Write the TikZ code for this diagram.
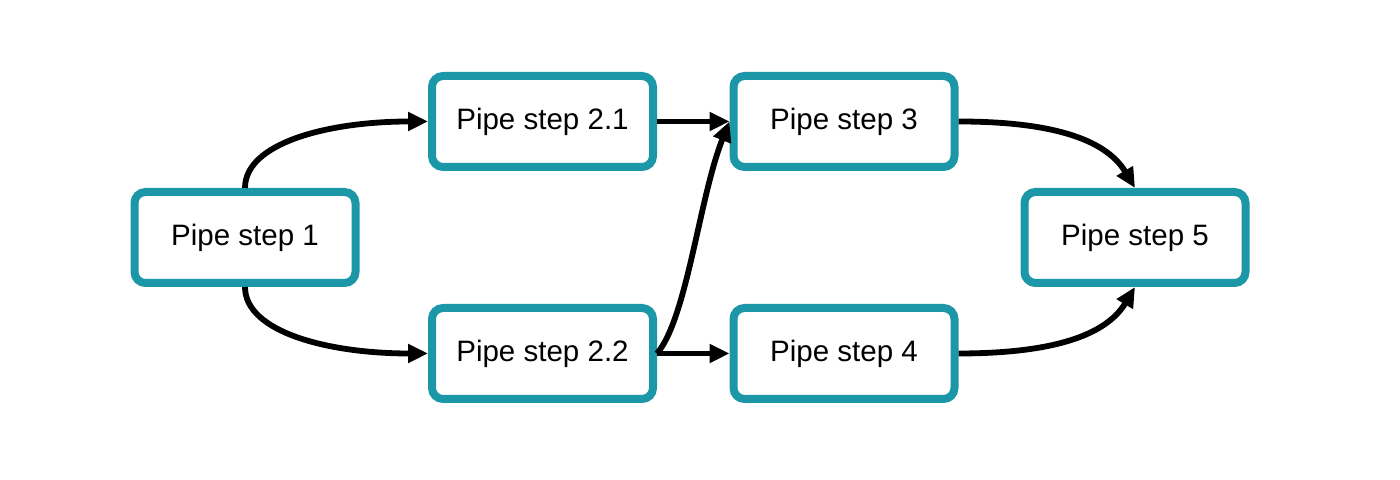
\documentclass[tikz,border=0pt]{standalone}
\usepackage{fontspec}
\setmainfont{Liberation Sans}
\usetikzlibrary{arrows.meta}
\definecolor{teal1}{RGB}{27,151,168}
\begin{document}
\begin{tikzpicture}[x=1cm,y=1cm,
  stepbox/.style={draw=teal1, line width=0.08cm, rounded corners=0.11cm, fill=white,
    minimum width=2.21cm, minimum height=0.91cm, inner sep=0pt,
    font=\fontsize{8.4}{10}\selectfont},
  conn/.style={line width=0.058cm, -{Triangle[length=0.2cm,width=0.18cm]}}]
\useasboundingbox (0,0) rectangle (14,4.8);
\node[stepbox] (s1)  at (2.45,2.425) {Pipe step 1};
\node[stepbox] (s21) at (5.425,3.585) {Pipe step 2.1};
\node[stepbox] (s22) at (5.425,1.265) {Pipe step 2.2};
\node[stepbox] (s3)  at (8.44,3.585) {Pipe step 3};
\node[stepbox] (s4)  at (8.44,1.265) {Pipe step 4};
\node[stepbox] (s5)  at (11.35,2.425) {Pipe step 5};
\draw[conn] (s1.north) .. controls +(0,0.45) and +(-1.0,0) .. (s21.west);
\draw[conn] (s1.south) .. controls +(0,-0.45) and +(-1.0,0) .. (s22.west);
\draw[conn] (s21.east) -- (s3.west);
\draw[conn] (s22.east) -- (s4.west);
\draw[conn] (s22.east) .. controls +(0.3,0.35) and +(-0.3,-0.75) .. (s3.west);
\draw[conn] (s3.east) .. controls +(0.9,0) and +(-0.3,0.5) .. (s5.north);
\draw[conn] (s4.east) .. controls +(0.9,0) and +(-0.3,-0.5) .. (s5.south);
\end{tikzpicture}
\end{document}
